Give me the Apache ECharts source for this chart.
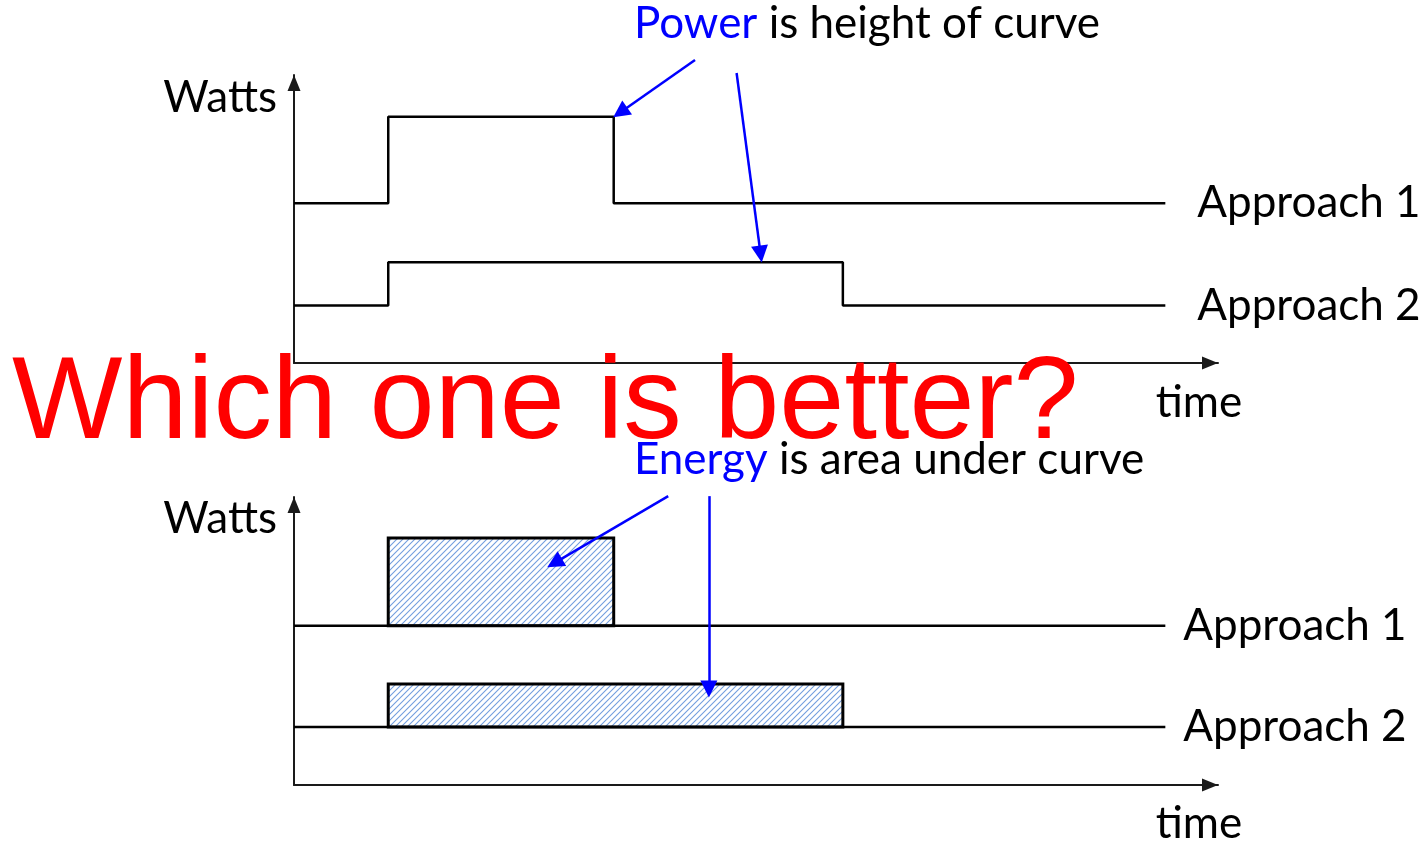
<!DOCTYPE html>
<html>
<head>
<meta charset="utf-8">
<script src="https://cdn.jsdelivr.net/npm/echarts@6/dist/echarts.min.js"></script>
<style>
  html, body { margin: 0; padding: 0; background: #fff; }
  #chart { width: 1426px; height: 844px; }
</style>
</head>
<body>
<div id="chart"></div>
<script>
// time axis runs 0..100, watts axis 0..100 (schematic units)
const approachNames = ["Approach 1", "Approach 2"];
const stepTime1 = [0, 10.2, 10.2, 34.6, 34.6, 94.3];
const stepWatts1 = [55.5, 55.5, 85.5, 85.5, 55.5, 55.5];
const stepTime2 = [0, 10.2, 10.2, 59.4, 59.4, 94.3];
const stepWatts2 = [20, 20, 35, 35, 20, 20];
const baseTime = [0, 94.3];
const baseWatts = [55.3, 20.1];
// [start, end, low, high]
const energyBlocks = [
  [10.2, 34.6, 55.3, 85.8],
  [10.2, 59.4, 20.1, 35.1]
];
// annotation arrows: [[fromTime, fromWatts], [toTime, toWatts]] (to = arrowhead centre)
const powerArrows = [
  [[43.4, 105.2], [35.3, 87.0]],
  [[47.9, 100.7], [50.5, 37.8]]
];
const energyArrows = [
  [[40.5, 100.3], [28.2, 77.1]],
  [[44.9, 100.3], [44.9, 33.3]]
];

const FONT = "Lato";
const FS = 44;

function hatch() {
  const c = document.createElement("canvas");
  c.width = 6; c.height = 6;
  const g = c.getContext("2d");
  g.fillStyle = "#ffffff";
  g.fillRect(0, 0, 6, 6);
  g.strokeStyle = "#739ede";
  g.lineWidth = 1.1;
  g.beginPath();
  g.moveTo(-1, 7); g.lineTo(7, -1);
  g.moveTo(-4, 4); g.lineTo(4, -4);
  g.moveTo(2, 10); g.lineTo(10, 2);
  g.stroke();
  return c;
}
const hatchImg = hatch();

const chart = echarts.init(document.getElementById("chart"));

function axisPair(idx) {
  const line = {
    show: true,
    symbol: ["none", "triangle"],
    symbolSize: [13, 16],
    symbolOffset: [0, -8],
    lineStyle: { color: "#1a1a1a", width: 2 }
  };
  return {
    x: {
      type: "value", gridIndex: idx, min: 0, max: 100,
      axisLine: line, axisTick: { show: false }, axisLabel: { show: false }, splitLine: { show: false }
    },
    y: {
      type: "value", gridIndex: idx, min: 0, max: 100,
      axisLine: line, axisTick: { show: false }, axisLabel: { show: false }, splitLine: { show: false }
    }
  };
}
const a0 = axisPair(0), a1 = axisPair(1);

function stepSeries(name, xs, ys, dist) {
  return {
    name: name,
    type: "line",
    xAxisIndex: 0, yAxisIndex: 0,
    data: xs.map((t, i) => [t, ys[i]]),
    showSymbol: false,
    lineStyle: { color: "#000", width: 2.5 },
    endLabel: { show: true, formatter: name, distance: dist, color: "#000", fontFamily: FONT, fontSize: FS },
    silent: true, z: 5
  };
}

function arrowSeries(arrows, idx) {
  return {
    type: "lines",
    coordinateSystem: "cartesian2d",
    xAxisIndex: idx, yAxisIndex: idx,
    clip: false,
    symbol: ["none", "triangle"],
    symbolSize: [13, 17],
    lineStyle: { color: "#0000ff", width: 2.5, opacity: 1, curveness: 0 },
    data: arrows.map(a => ({ coords: a })),
    silent: true, z: 8
  };
}

const series = [
  stepSeries(approachNames[0], stepTime1, stepWatts1, 32),
  stepSeries(approachNames[1], stepTime2, stepWatts2, 32),
  arrowSeries(powerArrows, 0)
];

baseWatts.forEach((w, i) => {
  series.push({
    name: approachNames[i],
    type: "line",
    xAxisIndex: 1, yAxisIndex: 1,
    data: baseTime.map(t => [t, w]),
    showSymbol: false,
    lineStyle: { color: "#000", width: 2.5 },
    endLabel: { show: true, formatter: approachNames[i], distance: 18, color: "#000", fontFamily: FONT, fontSize: FS },
    silent: true, z: 5
  });
});

series.push({
  type: "custom",
  xAxisIndex: 1, yAxisIndex: 1,
  data: energyBlocks,
  clip: false,
  renderItem: function (params, api) {
    const p0 = api.coord([api.value(0), api.value(3)]);
    const p1 = api.coord([api.value(1), api.value(2)]);
    return {
      type: "rect",
      shape: { x: p0[0], y: p0[1], width: p1[0] - p0[0], height: p1[1] - p0[1] },
      style: { fill: { image: hatchImg, repeat: "repeat" }, stroke: "#000", lineWidth: 3 }
    };
  },
  silent: true, z: 4
});
series.push(arrowSeries(energyArrows, 1));

function txt(x, y, text, extra) {
  return {
    type: "text", x: x, y: y, z: 20, silent: true,
    style: Object.assign({
      text: text, fill: "#000", fontFamily: FONT, fontSize: FS,
      verticalAlign: "middle", align: "left"
    }, extra || {})
  };
}

const option = {
  animation: false,
  backgroundColor: "#ffffff",
  grid: [
    { left: 294, top: 75, width: 924, height: 288 },
    { left: 294, top: 497, width: 924, height: 288 }
  ],
  xAxis: [a0.x, a1.x],
  yAxis: [a0.y, a1.y],
  series: series,
  graphic: [
    txt(634, 24, "{hl|Power} is height of curve", { rich: { hl: { fill: "#0000ff", fontFamily: FONT, fontSize: FS } } }),
    txt(634, 460, "{hl|Energy} is area under curve", { rich: { hl: { fill: "#0000ff", fontFamily: FONT, fontSize: FS } } }),
    txt(277, 98, "Watts", { align: "right" }),
    txt(277, 519, "Watts", { align: "right" }),
    txt(1199, 403, "time", { align: "center" }),
    txt(1199, 824, "time", { align: "center" }),
    {
      type: "text", x: 12, y: 406, z: 30, silent: true,
      style: {
        text: "Which one is better?", fill: "#ff0000",
        fontFamily: "Liberation Sans", fontSize: 117, verticalAlign: "middle", align: "left"
      }
    }
  ]
};

chart.setOption(option);
</script>
</body>
</html>
